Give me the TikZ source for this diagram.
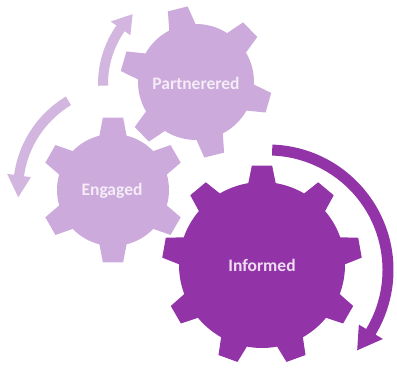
\documentclass[tikz,border=0pt]{standalone}
\usepackage{fontspec}
\setmainfont{Carlito}
\definecolor{darkpurple}{HTML}{9234A8}
\definecolor{lightpurple}{HTML}{CCAADC}
\definecolor{arrowlight}{HTML}{D2B6DF}
\definecolor{textlight}{HTML}{F4ECF7}
\definecolor{textdark}{HTML}{EEDDF2}
\newcommand{\mygear}[9]{%
 \begin{scope}[shift={(#1,#2)}]
 \pgfmathsetmacro{\gstep}{360/#3}
 \fill[#9] ({#8-#7}:#5pt)
   \foreach \i in {1,...,#3}{
     -- ({#8+(\i-1)*\gstep-#6}:#4pt) -- ({#8+(\i-1)*\gstep+#6}:#4pt) -- ({#8+(\i-1)*\gstep+#7}:#5pt)
     arc[start angle={#8+(\i-1)*\gstep+#7}, end angle={#8+\i*\gstep-#7}, radius=#5pt]
   } -- cycle;
 \end{scope}}
\newcommand{\circarrow}[9]{%
 \begin{scope}[shift={(#1,#2)}]
 \pgfmathsetmacro{\ro}{#3+#4}
 \pgfmathsetmacro{\ri}{#3-#4}
 \pgfmathsetmacro{\ho}{#3+#8}
 \pgfmathsetmacro{\hi}{#3-#8}
 \fill[#9] ({#5}:\ro pt) arc[start angle=#5, end angle=#6, radius=\ro pt]
   -- ({#6}:\ho pt) -- ({#7}:#3pt) -- ({#6}:\hi pt) -- ({#6}:\ri pt)
   arc[start angle=#6, end angle=#5, radius=\ri pt] -- cycle;
 \end{scope}}
\tikzset{
  geartext/.style={font=\fontsize{17.5}{20}\selectfont\bfseries, inner sep=0pt},
}
\begin{document}
\begin{tikzpicture}[x=1pt,y=1pt]
\useasboundingbox (0,0) rectangle (397,369);
% arrows
\circarrow{268}{99}{120}{5.5}{88}{-31}{-42}{14}{darkpurple}
\circarrow{122}{179}{104}{5}{121}{172}{184}{12}{arrowlight}
\circarrow{200}{285}{97}{5}{181}{145}{134}{12}{arrowlight}
% gears
\mygear{113}{179}{6}{73}{56}{8}{14}{90}{lightpurple}
\mygear{196}{287}{6}{76}{58}{7.7}{13.5}{104}{lightpurple}
\mygear{262}{104}{9}{100}{83}{5.8}{9.5}{90}{darkpurple}
% labels
\node[geartext, text=textlight] (partnered) at (196,286) {Partnerered};
\node[geartext, text=textlight] (engaged) at (112,178) {Engaged};
\node[geartext, text=textdark] (informed) at (262,104) {Informed};
\end{tikzpicture}
\end{document}
